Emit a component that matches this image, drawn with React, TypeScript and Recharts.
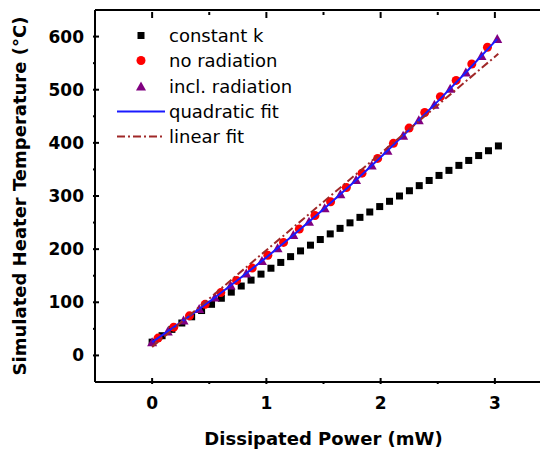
import { ScatterChart, Scatter, XAxis, YAxis, Legend, Label, CartesianGrid } from "recharts";

// constant k (black squares)
const constantPower = [
  0, 0.087, 0.173, 0.26, 0.346, 0.433, 0.52, 0.606, 0.693, 0.78, 0.866, 0.953,
  1.04, 1.126, 1.212, 1.299, 1.386, 1.472, 1.559, 1.645, 1.732, 1.819, 1.905, 1.992,
  2.078, 2.165, 2.252, 2.338, 2.425, 2.511, 2.598, 2.685, 2.771, 2.858, 2.944, 3.031,
];
const constantTemp = [
  25, 37.1, 49, 61, 72.7, 84.5, 96.2, 107.6, 119.1, 130.6, 141.7, 153,
  164.1, 175, 185.9, 196.7, 207.5, 218.1, 228.7, 239.1, 249.5, 259.8, 269.9, 280.1,
  290, 300, 309.9, 319.5, 329.2, 338.7, 348.2, 357.6, 366.9, 376.1, 385.2, 394.2,
];

// no radiation (red circles)
const noRadPower = [
  0.052, 0.189, 0.327, 0.464, 0.601, 0.739, 0.876, 1.013, 1.15, 1.288, 1.425,
  1.562, 1.7, 1.837, 1.974, 2.112, 2.249, 2.386, 2.523, 2.661, 2.798, 2.935,
];
const noRadTemp = [
  32.6, 53.2, 74.5, 96.1, 118.3, 141.2, 164.4, 188.3, 212.7, 237.7, 263.2,
  289.2, 316, 343, 370.7, 399.1, 427.8, 457.1, 486.9, 517.5, 548.4, 579.9,
];

// incl. radiation (purple triangles)
const inclRadPower = [
  0, 0.137, 0.275, 0.412, 0.549, 0.687, 0.824, 0.961, 1.098, 1.236, 1.373, 1.51,
  1.648, 1.785, 1.922, 2.06, 2.197, 2.334, 2.471, 2.609, 2.746, 2.883, 3.021,
];
const inclRadTemp = [
  25, 45.2, 65.9, 87.2, 109, 131.4, 154.3, 177.7, 201.7, 226.4, 251.4, 277.1,
  303.4, 330, 357.3, 385.2, 413.6, 442.4, 471.8, 502, 532.5, 563.5, 595.3,
];

// quadratic fit (blue line)
const quadFitPower = [0, 0.25, 0.5, 0.75, 1, 1.25, 1.5, 1.75, 2, 2.25, 2.5, 2.75, 3.02];
const quadFitTemp = [25, 62.2, 101.1, 141.9, 184.5, 228.9, 275.1, 323.2, 373, 424.7, 478.1, 533.4, 595.3];

// linear fit (dash-dot line)
const linFitPower = [0, 3.03];
const linFitTemp = [16, 567.5];

const xDomain = [-0.5, 3.5];
const yDomain = [-50, 650];
const xTicks = [0, 0.5, 1, 1.5, 2, 2.5, 3];
const yTicks = [0, 50, 100, 150, 200, 250, 300, 350, 400, 450, 500, 550, 600];
const seriesNames = ["constant k", "no radiation", "incl. radiation", "quadratic fit", "linear fit"];

const toPoints = (xs: number[], ys: number[]) => xs.map((x, i) => ({ x, y: ys[i] }));

// layout
const CHART_W = 545;
const CHART_H = 446;
const MARGIN = { top: 2, right: 1, bottom: 0, left: 0 };
const Y_AXIS_W = 87;
const X_AXIS_H = 72;
const PLOT_W = CHART_W - MARGIN.left - MARGIN.right - Y_AXIS_W;
const PLOT_H = CHART_H - MARGIN.top - MARGIN.bottom - X_AXIS_H;

const BLACK = "#000";
const RED = "#ff0000";
const PURPLE = "#800080";
const BLUE = "#1a1aff";
const BROWN = "#a02828";

const tickFont = { fontSize: 17, fontWeight: "bold" as const, fill: BLACK };

// bottom ticks also mirrored on the top edge of the frame
function BottomTick({ x, y, payload }: any) {
  const major = Number.isInteger(payload.value);
  const len = major ? 6 : 3;
  const top = y - PLOT_H;
  return (
    <g>
      <line x1={x} y1={y} x2={x} y2={y - len} stroke={BLACK} strokeWidth={2} />
      <line x1={x} y1={top} x2={x} y2={top + len} stroke={BLACK} strokeWidth={2} />
      {major && (
        <text x={x} y={y + 19} textAnchor="middle" dominantBaseline="central" {...tickFont}>
          {payload.value}
        </text>
      )}
    </g>
  );
}

// left ticks also mirrored on the right edge of the frame
function LeftTick({ x, y, payload }: any) {
  const major = payload.value % 100 === 0;
  const len = major ? 6 : 3;
  const right = x + PLOT_W;
  return (
    <g>
      <line x1={x} y1={y} x2={x + len} y2={y} stroke={BLACK} strokeWidth={2} />
      <line x1={right} y1={y} x2={right - len} y2={y} stroke={BLACK} strokeWidth={2} />
      {major && (
        <text x={x - 9} y={y} textAnchor="end" dominantBaseline="central" {...tickFont}>
          {payload.value}
        </text>
      )}
    </g>
  );
}

const Square = (p: any) => <rect x={p.cx - 3.5} y={p.cy - 3.5} width={7} height={7} fill={BLACK} />;
const Dot = (p: any) => <circle cx={p.cx} cy={p.cy} r={4.5} fill={RED} />;
const Tri = (p: any) => (
  <polygon points={`${p.cx},${p.cy - 5} ${p.cx - 5},${p.cy + 4} ${p.cx + 5},${p.cy + 4}`} fill={PURPLE} />
);
const NoMark = () => <g />;

function LegendIcon({ name }: { name: string }) {
  switch (name) {
    case "constant k":
      return <rect x={20.5} y={9} width={7} height={7} fill={BLACK} />;
    case "no radiation":
      return <circle cx={24} cy={12.5} r={4.5} fill={RED} />;
    case "incl. radiation":
      return <polygon points="24,7.5 19,16.5 29,16.5" fill={PURPLE} />;
    case "quadratic fit":
      return <line x1={0} y1={12.5} x2={48} y2={12.5} stroke={BLUE} strokeWidth={2} />;
    default:
      return <line x1={0} y1={12.5} x2={48} y2={12.5} stroke={BROWN} strokeWidth={2} strokeDasharray="8 3 2 3" />;
  }
}

function renderLegend() {
  return (
    <div style={{ fontFamily: "DejaVu Sans", fontSize: 18, color: BLACK }}>
      {seriesNames.map((n) => (
        <div key={n} style={{ display: "flex", alignItems: "center", height: 25.3 }}>
          <svg width={54} height={25} style={{ flex: "none" }}>
            <g transform="translate(2,0)">
              <LegendIcon name={n} />
            </g>
          </svg>
          <span style={{ whiteSpace: "nowrap", lineHeight: "25px" }}>{n}</span>
        </div>
      ))}
    </div>
  );
}

export default function App() {
  return (
    <div style={{ position: "relative", width: 540, height: CHART_H, overflow: "hidden", fontFamily: "DejaVu Sans" }}>
      <ScatterChart width={CHART_W} height={CHART_H} margin={MARGIN} style={{ overflow: "visible" }}>
        <CartesianGrid
          horizontal
          vertical
          horizontalValues={[yDomain[1]]}
          verticalValues={[xDomain[1]]}
          stroke={BLACK}
          strokeWidth={2}
          strokeDasharray=""
        />
        <XAxis
          type="number"
          dataKey="x"
          domain={xDomain}
          allowDataOverflow
          ticks={xTicks}
          interval={0}
          height={X_AXIS_H}
          tickSize={0}
          tickLine={false}
          axisLine={{ stroke: BLACK, strokeWidth: 2 }}
          tick={<BottomTick />}
        >
          <Label
            value="Dissipated Power (mW)"
            position="insideBottom"
            offset={9}
            style={{ fontSize: 18, fontWeight: "bold", fill: BLACK }}
          />
        </XAxis>
        <YAxis
          type="number"
          dataKey="y"
          domain={yDomain}
          allowDataOverflow
          ticks={yTicks}
          interval={0}
          width={Y_AXIS_W}
          tickSize={0}
          tickLine={false}
          axisLine={{ stroke: BLACK, strokeWidth: 2 }}
          tick={<LeftTick />}
        >
          <Label
            value="Simulated Heater Temperature (°C)"
            angle={-90}
            position="insideLeft"
            offset={12}
            style={{ fontSize: 18, fontWeight: "bold", fill: BLACK, textAnchor: "middle" }}
          />
        </YAxis>
        <Legend
          layout="vertical"
          align="center"
          verticalAlign="middle"
          wrapperStyle={{ left: 107, top: 15, width: 220 }}
          content={renderLegend}
        />
        <Scatter
          name="constant k"
          data={toPoints(constantPower, constantTemp)}
          fill={BLACK}
          shape={Square}
          isAnimationActive={false}
        />
        <Scatter
          name="no radiation"
          data={toPoints(noRadPower, noRadTemp)}
          fill={RED}
          shape={Dot}
          isAnimationActive={false}
        />
        <Scatter
          name="incl. radiation"
          data={toPoints(inclRadPower, inclRadTemp)}
          fill={PURPLE}
          shape={Tri}
          isAnimationActive={false}
        />
        <Scatter
          name="quadratic fit"
          data={toPoints(quadFitPower, quadFitTemp)}
          fill={BLUE}
          line={{ stroke: BLUE, strokeWidth: 2 }}
          shape={NoMark}
          isAnimationActive={false}
        />
        <Scatter
          name="linear fit"
          data={toPoints(linFitPower, linFitTemp)}
          fill={BROWN}
          line={{ stroke: BROWN, strokeWidth: 2, strokeDasharray: "8 3 2 3" }}
          shape={NoMark}
          isAnimationActive={false}
        />
      </ScatterChart>
      {/* top and right edges of the plot frame */}
      <div
        style={{
          position: "absolute",
          zIndex: 5,
          left: MARGIN.left + Y_AXIS_W,
          top: MARGIN.top - 1,
          width: PLOT_W + 1,
          height: PLOT_H,
          borderTop: "2px solid #000",
          borderRight: "2px solid #000",
          boxSizing: "border-box",
          pointerEvents: "none",
        }}
      />
    </div>
  );
}
